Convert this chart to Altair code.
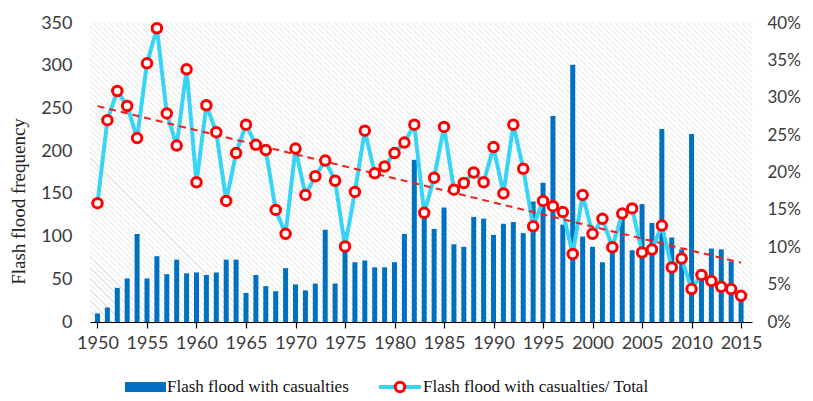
import altair as alt
import pandas as pd

years = [1950, 1951, 1952, 1953, 1954, 1955, 1956, 1957, 1958, 1959,
         1960, 1961, 1962, 1963, 1964, 1965, 1966, 1967, 1968, 1969,
         1970, 1971, 1972, 1973, 1974, 1975, 1976, 1977, 1978, 1979,
         1980, 1981, 1982, 1983, 1984, 1985, 1986, 1987, 1988, 1989,
         1990, 1991, 1992, 1993, 1994, 1995, 1996, 1997, 1998, 1999,
         2000, 2001, 2002, 2003, 2004, 2005, 2006, 2007, 2008, 2009,
         2010, 2011, 2012, 2013, 2014, 2015]

flash_floods_with_casualties = [
    10, 17, 40, 51, 103, 51, 77, 56, 73, 57,
    58, 55, 58, 73, 73, 34, 55, 42, 36, 63,
    44, 37, 45, 108, 45, 105, 70, 72, 64, 64,
    70, 103, 190, 132, 109, 134, 91, 88, 123, 121,
    102, 115, 117, 104, 141, 163, 241, 114, 301, 100,
    88, 70, 90, 125, 84, 138, 116, 226, 99, 85,
    220, 52, 86, 85, 71, 30]

share_of_total_pct = [
    15.9, 27.0, 30.9, 28.9, 24.6, 34.6, 39.3, 27.9, 23.6, 33.8,
    18.7, 29.0, 25.4, 16.2, 22.6, 26.4, 23.7, 23.0, 15.0, 11.8,
    23.2, 17.0, 19.5, 21.6, 18.9, 10.1, 17.4, 25.6, 19.9, 20.8,
    22.6, 24.0, 26.4, 14.6, 19.3, 26.1, 17.7, 18.6, 20.0, 18.7,
    23.4, 17.2, 26.4, 20.5, 12.8, 16.2, 15.5, 14.7, 9.1, 17.0,
    11.8, 13.8, 10.0, 14.5, 15.2, 9.3, 9.7, 12.9, 7.3, 8.5,
    4.4, 6.3, 5.5, 4.7, 4.4, 3.5]

x_ticks = [1950, 1955, 1960, 1965, 1970, 1975, 1980, 1985, 1990, 1995,
           2000, 2005, 2010, 2015]
left_ticks = [0, 50, 100, 150, 200, 250, 300, 350]
right_ticks = [0, 5, 10, 15, 20, 25, 30, 35, 40]

bar_label = "Flash flood with casualties"
line_label = "Flash flood with casualties/ Total"

BAR_COLOR = "#0070C0"
LINE_COLOR = "#38D4F6"
MARK_COLOR = "#FF0000"

df = pd.DataFrame({
    "year": years,
    "count": flash_floods_with_casualties,
    "ratio": share_of_total_pct,
})

W, H = 662, 299
SANS = "Lato"
SERIF = "Liberation Serif"
TXT = "#3a3a3a"

# diagonal hatch background as a striped linear gradient
r = H / W
a = (1 + r) / (1 + r * r)
span = W + H
period, thick = 5.5, 1.3
stops = []
k = 0.0
while k < span:
    o0 = k / span
    o1 = min((k + period - thick) / span, 1.0)
    o2 = min((k + period) / span, 1.0)
    stops += [{"offset": o0, "color": "#ffffff"},
              {"offset": o1, "color": "#ffffff"},
              {"offset": o1, "color": "#e3e3e3"},
              {"offset": o2, "color": "#e3e3e3"}]
    k += period
hatch = {"gradient": "linear", "x1": 0, "y1": 1, "x2": a, "y2": 1 - a * r,
         "stops": stops}

x_enc = alt.X("year:Q",
              scale=alt.Scale(domain=[1949.75, 2015.6], nice=False, zero=False),
              axis=alt.Axis(values=x_ticks, format="d", title=None,
                            grid=True, gridColor="#d9d9d9", gridWidth=1.6,
                            domainColor="#000000", domainWidth=1.2,
                            tickColor="#000000", tickSize=6, tickWidth=1.2,
                            labelFont=SANS, labelFontSize=18, labelColor=TXT,
                            labelPadding=6))

one = pd.DataFrame({"a": [0]})

bg = alt.Chart(one).mark_rect(fill=hatch).encode(
    x=alt.value(0), x2=alt.value(W), y=alt.value(0), y2=alt.value(H))

bars = alt.Chart(df).mark_bar(size=5, color=BAR_COLOR).encode(
    x=x_enc,
    y=alt.Y("count:Q", scale=alt.Scale(domain=[0, 350], nice=False),
            axis=alt.Axis(values=left_ticks, title="Flash flood frequency",
                          titleFont=SERIF, titleFontSize=19, titleFontWeight="normal",
                          titleColor="#222222", titleX=-62, titleY=178,
                          grid=True, gridColor="#d9d9d9", gridWidth=1.6,
                          domain=False, ticks=False, labelPadding=18,
                          labelFont=SANS, labelFontSize=18, labelColor=TXT)),
)

y_right = alt.Y("ratio:Q", scale=alt.Scale(domain=[0, 40], nice=False),
                axis=alt.Axis(orient="right", values=right_ticks,
                              labelExpr="datum.value + '%'", title=None,
                              grid=False, domain=False, ticks=False,
                              labelPadding=15, labelFont=SANS,
                              labelFontSize=17, labelColor=TXT))

line = alt.Chart(df).mark_line(strokeWidth=4, color=LINE_COLOR).encode(
    x=x_enc, y=y_right)

trend = alt.Chart(df).transform_regression(
    "year", "ratio", method="linear", extent=[1950, 2015]
).mark_line(color="#F02020", strokeDash=[7, 5], strokeWidth=2).encode(
    x=x_enc, y=y_right)

points = alt.Chart(df).mark_point(
    filled=True, fill="white", stroke=MARK_COLOR, strokeWidth=3, size=90, opacity=1
).encode(x=x_enc, y=y_right)

# legend (below the plot)
LEG_Y = 364
leg_bar = alt.Chart(one).mark_rect(color=BAR_COLOR).encode(
    x=alt.value(35), x2=alt.value(76), y=alt.value(LEG_Y - 5), y2=alt.value(LEG_Y + 5))
leg_bar_txt = alt.Chart(pd.DataFrame({"t": [bar_label]})).mark_text(
    align="left", baseline="middle", font=SERIF, fontSize=17, color="#111111"
).encode(x=alt.value(77), y=alt.value(LEG_Y), text="t:N")
leg_line = alt.Chart(one).mark_rule(color=LINE_COLOR, strokeWidth=4).encode(
    x=alt.value(289), x2=alt.value(331), y=alt.value(LEG_Y))
leg_pt = alt.Chart(one).mark_point(
    filled=True, fill="white", stroke=MARK_COLOR, strokeWidth=3, size=90, opacity=1
).encode(x=alt.value(310), y=alt.value(LEG_Y))
leg_line_txt = alt.Chart(pd.DataFrame({"t": [line_label]})).mark_text(
    align="left", baseline="middle", font=SERIF, fontSize=17, color="#111111"
).encode(x=alt.value(333), y=alt.value(LEG_Y), text="t:N")

left = alt.layer(bg, bars)
right = alt.layer(line, trend, points)

chart = alt.layer(left, right, leg_bar, leg_bar_txt, leg_line, leg_pt, leg_line_txt
                  ).resolve_scale(y="independent").properties(
    width=W, height=H,
    padding={"left": 82, "top": 15, "right": 53, "bottom": 80},
    autosize=alt.AutoSizeParams(type="none"),
).configure_view(stroke=None)

chart.save("out.html", embed_options={"renderer": "svg", "actions": False})
